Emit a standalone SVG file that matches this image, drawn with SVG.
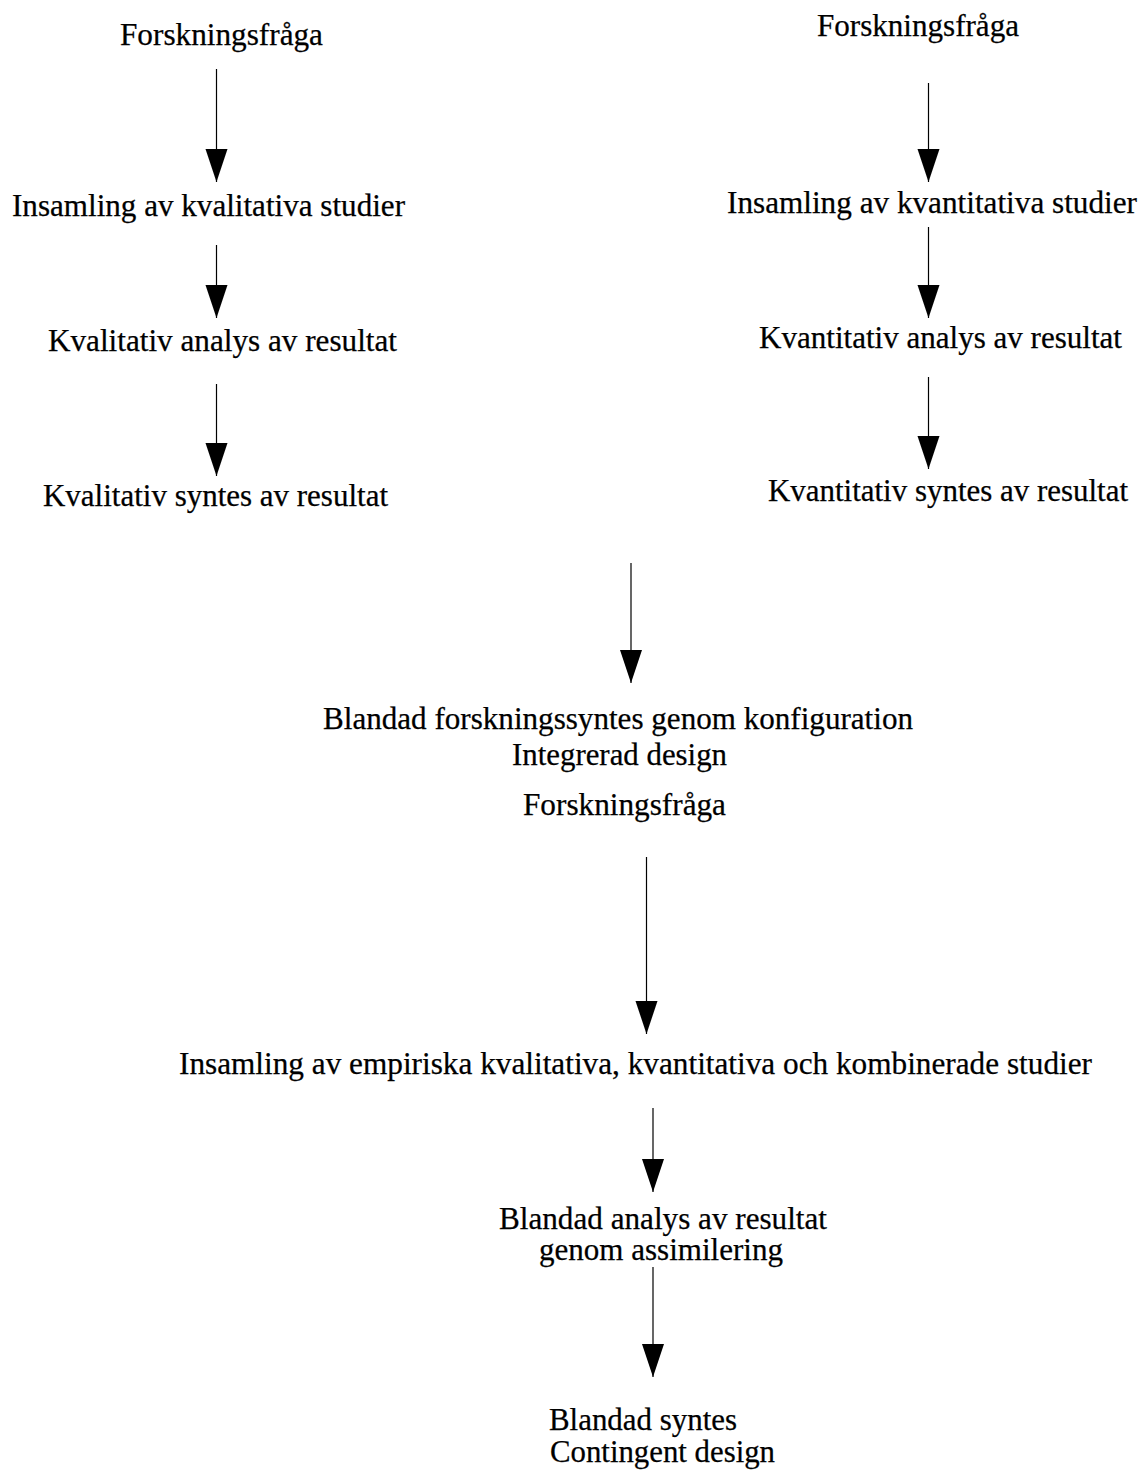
<svg xmlns="http://www.w3.org/2000/svg" width="1143" height="1471" viewBox="0 0 1143 1471">
<style>
  .t { font-family: 'Liberation Serif', 'Times New Roman', Times, serif; font-size: 31px; fill: #000; stroke: #000; stroke-width: 0.25; }
  .conn { stroke: #000; stroke-width: 1.2; fill: none; marker-end: url(#arrow); }
</style>
<defs>
  <marker id="arrow" markerUnits="userSpaceOnUse" markerWidth="33" markerHeight="22" viewBox="0 -11 33 22" refX="33" refY="0" orient="auto" overflow="visible">
    <path d="M0,-11 L33,0 L0,11 z" fill="#000"/>
  </marker>
</defs>
<rect width="1143" height="1471" fill="#fff"/>

<g id="nodes" class="t">
  <g id="n-fraga-kval"><text x="120" y="45" textLength="203" lengthAdjust="spacingAndGlyphs">Forskningsfråga</text></g>
  <g id="n-insamling-kval"><text x="12" y="216" textLength="393" lengthAdjust="spacingAndGlyphs">Insamling av kvalitativa studier</text></g>
  <g id="n-analys-kval"><text x="48" y="351" textLength="349" lengthAdjust="spacingAndGlyphs">Kvalitativ analys av resultat</text></g>
  <g id="n-syntes-kval"><text x="43" y="506" textLength="345" lengthAdjust="spacingAndGlyphs">Kvalitativ syntes av resultat</text></g>

  <g id="n-fraga-kvant"><text x="817" y="36" textLength="202" lengthAdjust="spacingAndGlyphs">Forskningsfråga</text></g>
  <g id="n-insamling-kvant"><text x="727" y="213" textLength="410" lengthAdjust="spacingAndGlyphs">Insamling av kvantitativa studier</text></g>
  <g id="n-analys-kvant"><text x="759" y="348" textLength="363" lengthAdjust="spacingAndGlyphs">Kvantitativ analys av resultat</text></g>
  <g id="n-syntes-kvant"><text x="768" y="501" textLength="360" lengthAdjust="spacingAndGlyphs">Kvantitativ syntes av resultat</text></g>

  <g id="n-blandad-konfig">
    <text x="323" y="729" textLength="590" lengthAdjust="spacingAndGlyphs">Blandad forskningssyntes genom konfiguration</text>
    <text x="512" y="765" textLength="215" lengthAdjust="spacingAndGlyphs">Integrerad design</text>
  </g>
  <g id="n-fraga-mid"><text x="523" y="815" textLength="203" lengthAdjust="spacingAndGlyphs">Forskningsfråga</text></g>
  <g id="n-insamling-empiriska"><text x="179" y="1074" textLength="913" lengthAdjust="spacingAndGlyphs">Insamling av empiriska kvalitativa, kvantitativa och kombinerade studier</text></g>
  <g id="n-blandad-analys">
    <text x="499" y="1229" textLength="328" lengthAdjust="spacingAndGlyphs">Blandad analys av resultat</text>
    <text x="539" y="1260" textLength="244" lengthAdjust="spacingAndGlyphs">genom assimilering</text>
  </g>
  <g id="n-blandad-syntes">
    <text x="549" y="1430" textLength="188" lengthAdjust="spacingAndGlyphs">Blandad syntes</text>
    <text x="550" y="1462" textLength="225" lengthAdjust="spacingAndGlyphs">Contingent design</text>
  </g>
</g>

<g id="connectors">
  <line class="conn" x1="216.5" y1="69" x2="216.5" y2="182"/>
  <line class="conn" x1="216.5" y1="245" x2="216.5" y2="318"/>
  <line class="conn" x1="216.5" y1="384" x2="216.5" y2="476"/>
  <line class="conn" x1="928.5" y1="83" x2="928.5" y2="182"/>
  <line class="conn" x1="928.5" y1="227" x2="928.5" y2="318"/>
  <line class="conn" x1="928.5" y1="377" x2="928.5" y2="469"/>
  <line class="conn" x1="631" y1="563" x2="631" y2="683"/>
  <line class="conn" x1="646.5" y1="857" x2="646.5" y2="1034"/>
  <line class="conn" x1="653" y1="1108" x2="653" y2="1192"/>
  <line class="conn" x1="653" y1="1267" x2="653" y2="1377"/>
</g>
</svg>
